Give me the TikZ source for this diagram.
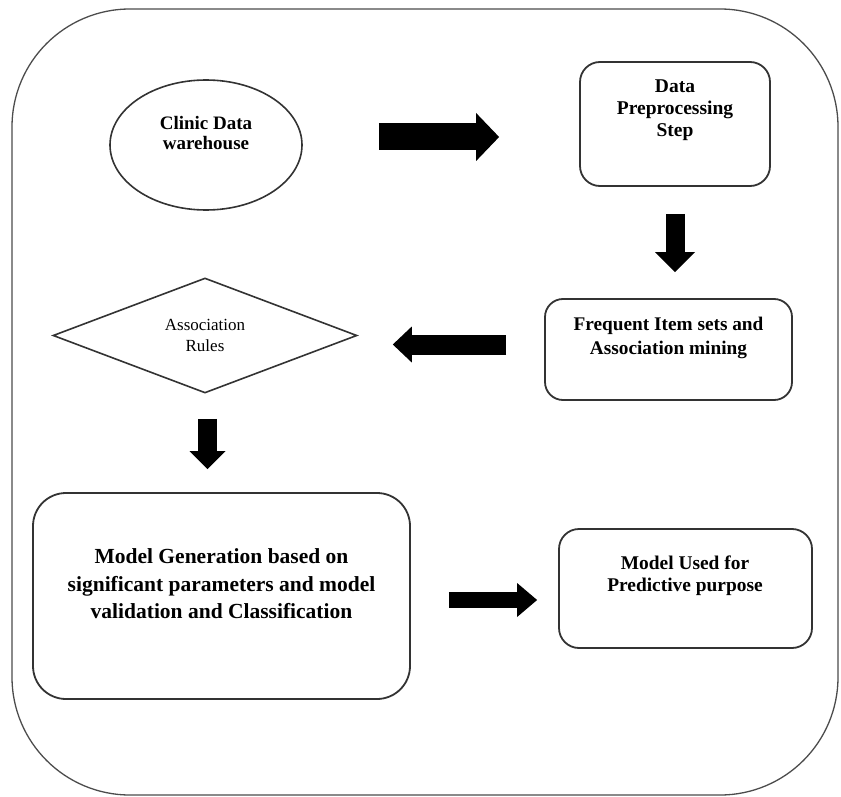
\documentclass[tikz,border=0pt]{standalone}
\usepackage{fontspec}
\setmainfont{Liberation Serif}
\usetikzlibrary{shapes.geometric,arrows.meta}
\begin{document}
\begin{tikzpicture}[x=1pt,y=-1pt,
  frame/.style={draw=black!70, line width=1.3pt, rounded corners=118pt},
  box/.style={draw=black!80, line width=1.8pt, rounded corners=#1},
  txt/.style={align=center, inner sep=0pt},
  barrow/.style n args={3}{draw=black, line width=#1, -{Triangle[length=#2,width=#3,line width=0pt]}}
]
\useasboundingbox (0,0) rectangle (841,797);

\node[frame, minimum width=826pt, minimum height=786pt] (frame) at (425,402) {};

\node[draw=black!80, line width=1.6pt, ellipse, minimum width=192pt, minimum height=130pt, inner sep=0pt] (cdw) at (206,145) {};
\node[txt, font=\fontsize{19}{20}\selectfont\bfseries] (cdwt) at (206,133) {Clinic Data\\warehouse};

\node[box=20pt, minimum width=190pt, minimum height=124pt] (dp) at (675,124) {};
\node[txt, font=\fontsize{19.5}{22}\selectfont\bfseries] (dpt) at (675,110) {Data\\Preprocessing\\Step};

\node[box=18pt, minimum width=247pt, minimum height=101pt] (freq) at (668.5,349.5) {};
\node[txt, font=\fontsize{19.3}{24}\selectfont\bfseries] (freqt) at (668.5,338) {Frequent Item sets and\\Association mining};

\node[draw=black!80, line width=1.6pt, diamond, minimum width=304pt, minimum height=115pt, inner sep=0pt, align=center, font=\fontsize{17}{21}\selectfont] (rules) at (205,335.5) {Association\\Rules};

\node[box=33pt, minimum width=377pt, minimum height=206pt] (mg) at (221.5,596) {};
\node[txt, font=\fontsize{21.5}{27.5}\selectfont\bfseries] (mgt) at (221.5,584) {Model Generation based on\\significant parameters and model\\validation and Classification};

\node[box=20pt, minimum width=253pt, minimum height=119pt] (mu) at (685.5,588.5) {};
\node[txt, font=\fontsize{19.4}{22}\selectfont\bfseries] (mut) at (685,576) {Model Used for\\Predictive purpose};

\draw[barrow={27pt}{23pt}{48pt}] ([xshift=76pt,yshift=8pt]cdw.east) -- ([xshift=-80pt,yshift=-13pt]dp.west);
\draw[barrow={19pt}{20pt}{40pt}, shorten <=27pt, shorten >=26pt] (dp.south) -- (dp.south |- freq.north);
\draw[barrow={20pt}{19pt}{36pt}, shorten <=38pt] ([yshift=5pt]freq.west) -- ([xshift=35pt,yshift=-9pt]rules.east);
\draw[barrow={19pt}{18pt}{36pt}] ([xshift=2.5pt,yshift=-25pt]rules.south) -- ([xshift=-14pt,yshift=23pt]mg.north);
\draw[barrow={16pt}{20pt}{34pt}] ([xshift=38pt,yshift=-4pt]mg.east) -- ([xshift=-21pt,yshift=-11.5pt]mu.west);
\end{tikzpicture}
\end{document}
